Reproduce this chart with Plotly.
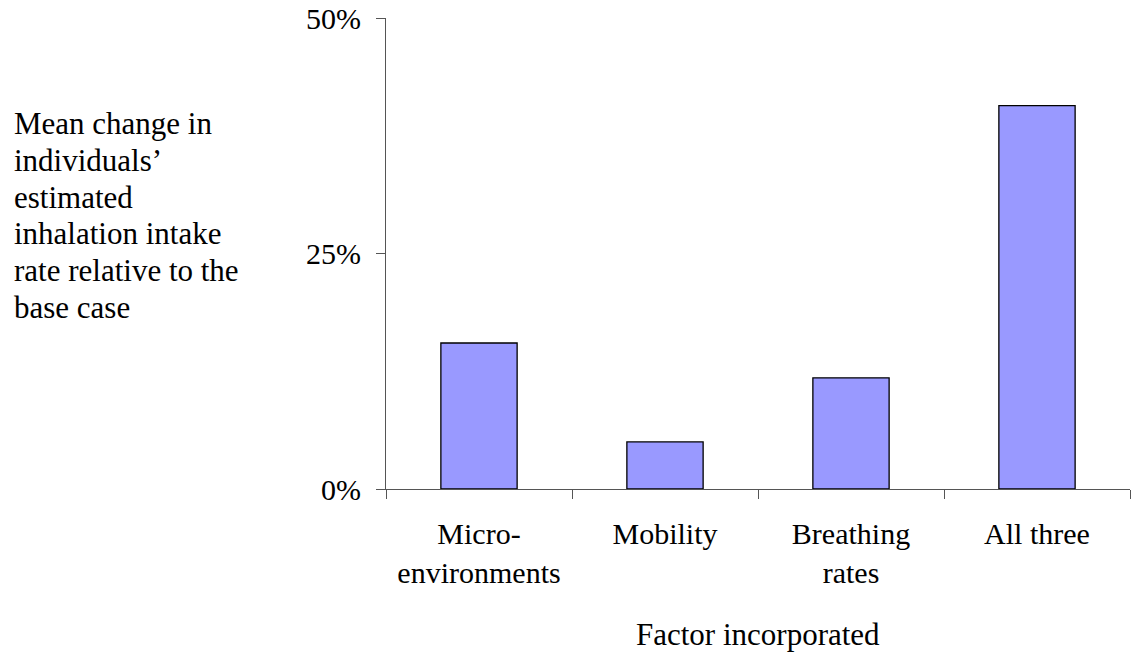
import plotly.graph_objects as go

categories = ["Micro-<br>environments", "Mobility", "Breathing<br>rates", "All three"]
values = [15.5, 5.0, 11.8, 40.7]
y_ticks = [0, 25, 50]
y_tick_labels = ["0%", "25%", "50%"]
y_title_lines = [
    "Mean change in",
    "individuals’",
    "estimated",
    "inhalation intake",
    "rate relative to the",
    "base case",
]
x_title = "Factor incorporated"

FONT = "Liberation Serif, Times New Roman, serif"
TICK_SIZE = 30
TITLE_SIZE = 31

W, H = 1133, 656
L, R, T, B = 386, 3, 18, 167
plot_w = W - L - R
plot_h = H - T - B

fig = go.Figure(
    go.Bar(
        x=categories,
        y=values,
        marker=dict(color="#9999FF", line=dict(color="black", width=1.3)),
        width=0.41,
    )
)

annotations = []
for i, line in enumerate(y_title_lines):
    py = 124 + 36.6 * i
    annotations.append(
        dict(
            text=line,
            xref="paper", yref="paper",
            x=(12 - L) / plot_w, y=(H - B - py) / plot_h,
            xanchor="left", yanchor="middle",
            align="left",
            showarrow=False,
            font=dict(family=FONT, size=TITLE_SIZE),
        )
    )
annotations.append(
    dict(
        text=x_title,
        xref="paper", yref="paper",
        x=0.5, y=(H - B - 634) / plot_h,
        xanchor="center", yanchor="middle",
        showarrow=False,
        font=dict(family=FONT, size=TITLE_SIZE),
    )
)

fig.update_layout(
    template="none",
    width=W,
    height=H,
    margin=dict(l=L, r=R, t=T, b=B, autoexpand=False),
    paper_bgcolor="white",
    plot_bgcolor="white",
    showlegend=False,
    font=dict(family=FONT, size=TICK_SIZE, color="black"),
    xaxis=dict(
        automargin=False,
        showline=True,
        linecolor="#555555",
        linewidth=1,
        ticks="outside",
        ticklen=9,
        tickcolor="#555555",
        tickson="boundaries",
        showgrid=False,
        ticklabelstandoff=18,
        tickfont=dict(family=FONT, size=TICK_SIZE),
    ),
    yaxis=dict(
        automargin=False,
        range=[0, 50],
        tickvals=y_ticks,
        ticktext=y_tick_labels,
        showline=True,
        linecolor="#555555",
        linewidth=1,
        ticks="outside",
        ticklen=9,
        tickcolor="#555555",
        showgrid=False,
        zeroline=False,
        ticklabelstandoff=9,
        ticklabeloverflow="allow",
        tickfont=dict(family=FONT, size=TICK_SIZE),
    ),
    annotations=annotations,
)

fig.write_html(
    "out.html",
    config={"displayModeBar": False},
    post_script="document.body.style.margin='0';",
)
